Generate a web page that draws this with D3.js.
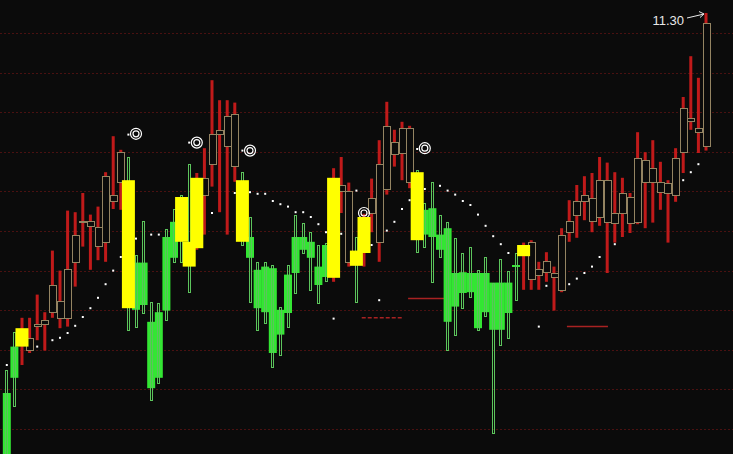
<!DOCTYPE html>
<html><head><meta charset="utf-8">
<script src="https://cdn.jsdelivr.net/npm/d3@7"></script>
<style>html,body{margin:0;padding:0;background:#0b0b0b;overflow:hidden}</style>
</head><body><svg id="c" width="733" height="454"></svg>
<script>
// ---- data ----
const opens = [
6.55,7.13,7.13,7.09,7.38,7.41,7.56,7.49,7.49,8.19,
8.69,8.64,8.39,8.43,8.95,9.19,9.21,8.18,8.18,7.44,
7.56,8.50,8.69,9.00,8.44,8.36,9.03,9.41,9.79,9.64,
9.39,9.21,8.50,8.09,8.13,8.11,7.59,8.03,8.50,8.50,
8.44,8.13,8.40,7.99,9.08,8.19,8.33,8.30,8.80,8.43,
9.10,9.54,9.55,9.18,9.31,8.84,8.86,8.53,8.61,8.05,
8.06,8.05,8.05,8.05,7.93,7.93,7.93,8.15,8.26,7.98,
8.03,8.06,8.00,7.84,8.56,8.78,8.95,8.70,8.75,8.68,
8.68,8.80,8.68,8.69,9.19,9.19,9.06,9.05,9.03,9.56,
9.95,9.81,9.64];
const highs = [
6.84,7.31,7.49,7.49,7.78,7.56,8.33,8.08,8.83,8.81,
9.05,8.78,8.88,9.31,9.76,9.59,9.50,8.28,8.70,7.69,
7.68,8.60,8.85,9.03,9.41,9.30,9.61,10.46,10.21,10.21,
10.18,9.31,8.75,8.19,8.19,8.15,7.63,8.15,8.78,8.68,
8.56,8.40,8.43,9.36,9.50,9.18,8.50,8.79,9.23,9.71,
10.19,9.84,9.94,9.89,9.34,8.93,9.19,8.78,8.69,8.49,
8.30,8.38,8.09,8.25,7.93,8.23,8.08,8.30,8.43,8.46,
8.19,8.31,8.13,8.61,8.96,9.15,9.26,9.30,9.50,9.43,
9.31,9.24,9.05,9.81,9.56,9.71,9.44,9.21,9.61,10.25,
10.76,10.49,11.30];
const lows = [
5.59,6.38,6.90,7.05,7.21,7.08,7.49,7.36,7.38,7.88,
8.38,8.09,8.21,8.19,8.85,8.84,7.34,7.38,7.55,6.46,
6.68,7.46,8.19,8.19,7.81,8.34,8.53,9.13,8.81,8.53,
9.19,8.40,7.69,7.34,7.43,6.88,7.03,7.38,7.81,8.31,
7.84,7.68,7.96,7.94,8.80,8.13,7.69,8.13,8.56,8.19,
9.03,9.38,9.21,9.11,8.31,8.38,7.94,8.25,7.09,7.28,
7.61,7.75,7.34,7.51,6.05,7.15,7.24,7.71,7.84,7.84,
7.84,7.94,7.58,7.81,8.44,8.49,8.71,8.56,8.64,8.05,
8.43,8.50,8.55,8.66,8.61,8.68,8.84,8.43,8.94,9.30,
9.84,9.55,9.58];
const closes = [
5.69,6.74,7.36,7.24,7.41,7.46,7.90,7.70,8.10,8.53,
8.70,8.70,8.63,9.26,9.03,9.56,7.61,7.59,7.65,6.61,
6.74,7.58,8.24,8.44,8.13,9.24,9.24,9.79,9.84,10.01,
10.04,8.44,8.24,7.61,7.56,7.05,7.28,7.55,8.05,8.34,
8.24,7.90,8.00,9.24,9.15,9.08,8.14,8.75,8.99,9.41,
9.89,9.69,9.86,9.86,8.46,8.53,8.50,8.34,7.44,7.63,
7.80,7.81,7.36,7.56,7.34,7.34,7.55,8.13,8.40,8.44,
8.10,8.20,8.05,8.53,8.70,8.95,9.03,8.99,9.21,9.21,
8.80,9.05,9.00,9.49,9.46,9.36,9.19,9.18,9.49,10.11,
9.99,9.86,11.18];
const yellowIdx = [2,16,23,24,25,31,43,46,47,54,68];
const sarIdx = [0,4,6,7,8,9,10,11,12,13,14,15,16,17,19,20,24,27,30,31,32,33,34,35,36,37,38,39,40,41,42,43,44,46,48,49,50,51,52,53,54,55,57,58,59,60,61,62,63,64,65,66,70,71,74,75,76,77,78,80,89,90,91];
const sarVal = [6.90,7.13,7.21,7.24,7.30,7.39,7.50,7.61,7.74,7.91,8.08,8.25,9.78,8.48,8.53,8.53,9.68,8.80,9.05,9.58,9.06,9.04,9.04,8.95,8.91,8.88,8.81,8.81,8.75,8.66,8.56,7.48,8.54,9.08,8.40,7.71,8.58,8.69,8.85,8.96,9.60,9.10,9.14,9.08,9.03,8.95,8.90,8.78,8.64,8.51,8.41,8.30,7.38,7.89,7.91,7.98,8.05,8.13,8.25,8.41,9.21,9.31,9.41];
const circleIdx = [17,25,32,47,55];
const circleVal = [9.79,9.68,9.58,8.80,9.61];
const levelFrom = [46.7,52.8,73.7];
const levelTo = [52.1,57.9,79.1];
const levelVal = [7.49,7.73,7.38];
const gridValues = [11.05,10.555,10.06,9.565,9.07,8.575,8.08,7.585,7.09,6.595,6.10];
const peakLabel = "11.30";

// ---- drawing ----
const W = 733, H = 454;
const svg = d3.select('#c');
const N = opens.length;
const x = d3.scaleLinear().domain([0, N - 1]).range([6.8, 706]);
const y = d3.scaleLinear().domain([5.7875, 11.4625]).range([H, 0]);

svg.append('rect').attr('width', W).attr('height', H).attr('fill', '#0b0b0b');

// grid
svg.append('g').selectAll('line').data(gridValues).join('line')
  .attr('x1', 0).attr('x2', W)
  .attr('y1', d => Math.round(y(d)) + 0.5).attr('y2', d => Math.round(y(d)) + 0.5)
  .attr('stroke', '#4a1111').attr('stroke-width', 1).attr('stroke-dasharray', '2,2');

// level lines
svg.append('g').selectAll('line').data(levelVal).join('line')
  .attr('x1', (d, i) => x(levelFrom[i])).attr('x2', (d, i) => x(levelTo[i]))
  .attr('y1', d => y(d)).attr('y2', d => y(d))
  .attr('stroke', '#a82222').attr('stroke-width', 1.5)
  .attr('stroke-dasharray', (d, i) => i === 0 ? '4,2' : null);

const data = opens.map((o, i) => ({i, o, h: highs[i], l: lows[i], c: closes[i], up: closes[i] >= o, yel: yellowIdx.includes(i)}));

const gC = svg.append('g');
data.forEach(d => {
  const cx = x(d.i);
  const top = y(Math.max(d.o, d.c)), bot = y(Math.min(d.o, d.c));
  if (d.up) {
    gC.append('rect').attr('x', cx - 1.5).attr('y', y(d.h)).attr('width', 3)
      .attr('height', Math.max(1, y(d.l) - y(d.h))).attr('fill', '#c01a1a');
    if (!d.yel) {
      gC.append('rect').attr('x', Math.round(cx - 3.5) + 0.5).attr('y', Math.round(top) + 0.5)
        .attr('width', 7).attr('height', Math.max(1, Math.round(bot - top)))
        .attr('fill', '#0b0b0b').attr('stroke', '#948462').attr('stroke-width', 1);
    }
  } else {
    if (!d.yel) {
      gC.append('rect').attr('x', cx - 4).attr('y', top).attr('width', 8)
        .attr('height', Math.max(2, bot - top)).attr('fill', '#33e633');
    }
    gC.append('rect').attr('x', Math.round(cx - 1.5) + 0.5).attr('y', Math.round(y(d.h)) + 0.5)
      .attr('width', 2).attr('height', Math.max(1, Math.round(y(d.l) - y(d.h))))
      .attr('fill', 'none').attr('stroke', '#5cc45c').attr('stroke-width', 1);
  }
});

// SAR dots
svg.append('g').selectAll('rect').data(sarVal).join('rect')
  .attr('x', (d, i) => x(sarIdx[i]) - 1).attr('y', d => y(d) - 1)
  .attr('width', 2).attr('height', 2).attr('fill', '#ffffff');

// circles
const gO = svg.append('g');
circleVal.forEach((v, k) => {
  const cx = x(circleIdx[k]), cy = y(v);
  gO.append('circle').attr('cx', cx).attr('cy', cy).attr('r', 5.5)
    .attr('fill', 'none').attr('stroke', '#ffffff').attr('stroke-width', 1.2);
  gO.append('circle').attr('cx', cx).attr('cy', cy).attr('r', 3)
    .attr('fill', 'none').attr('stroke', '#ffffff').attr('stroke-width', 1.2);
});

// yellow bars
svg.append('g').selectAll('rect').data(data.filter(d => d.yel)).join('rect')
  .attr('x', d => x(d.i) - 6.5).attr('y', d => y(Math.max(d.o, d.c)))
  .attr('width', 13).attr('height', d => Math.max(2, y(Math.min(d.o, d.c)) - y(Math.max(d.o, d.c))))
  .attr('fill', '#ffff00');

// peak label
const maxI = d3.maxIndex(highs);
const px = x(maxI), py = y(highs[maxI]);
svg.append('text').attr('x', px - 22).attr('y', py + 12)
  .attr('text-anchor', 'end').attr('fill', '#e8e8e8')
  .attr('font-family', 'Liberation Sans, Arial, sans-serif').attr('font-size', 13)
  .text(peakLabel);
svg.append('line').attr('x1', px - 19).attr('y1', py + 5).attr('x2', px - 2).attr('y2', py + 1)
  .attr('stroke', '#e8e8e8').attr('stroke-width', 1);
svg.append('path').attr('d', `M${px - 7},${py - 1.5} L${px - 2},${py + 1} L${px - 6},${py + 4.5}`)
  .attr('fill', 'none').attr('stroke', '#e8e8e8').attr('stroke-width', 1);
</script></body></html>
